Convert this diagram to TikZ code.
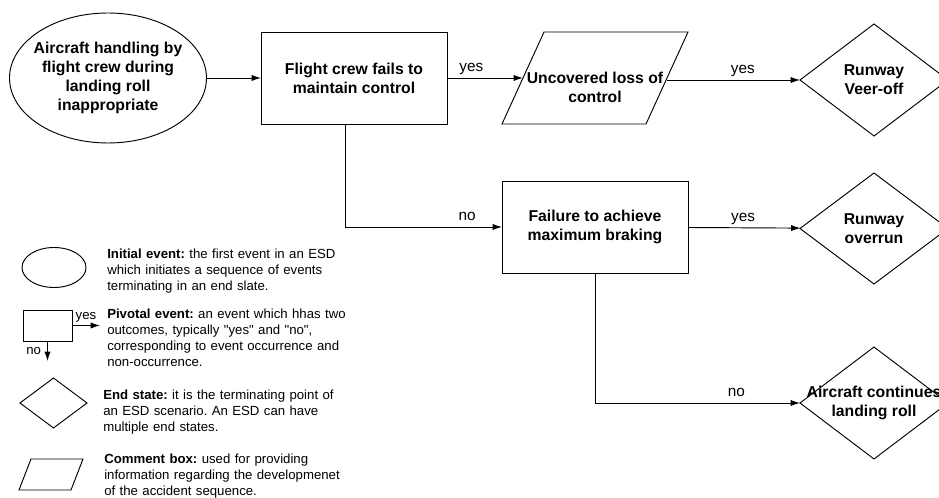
\documentclass[tikz,border=0pt]{standalone}
\usepackage{fontspec}
\setmainfont{Liberation Sans}
\usetikzlibrary{shapes.geometric,arrows.meta,calc}
\frenchspacing

\begin{document}
\begin{tikzpicture}[x=0.75pt,y=-0.75pt,
  outline/.style={draw=black,line width=0.7pt,inner sep=0pt,outer sep=0pt},
  initev/.style={outline,ellipse},
  pivot/.style={outline,rectangle},
  endst/.style={outline,diamond},
  frame/.style={rectangle,inner sep=0pt,outer sep=0pt},
  slanted/.style={draw=black,line width=0.7pt,line join=miter},
  maintext/.style={font=\fontsize{11.8pt}{14.25pt}\selectfont\bfseries,align=center,inner sep=0pt},
  flow/.style={draw=black,line width=0.7pt,-{Latex[length=7pt,width=4.6pt]}},
  lbl/.style={font=\fontsize{11.5pt}{13.8pt}\selectfont,anchor=base,inner sep=0pt,yshift=4.5pt},
  smalllbl/.style={font=\fontsize{9.9pt}{12pt}\selectfont,inner sep=0pt},
  legendtext/.style={font=\fontsize{9.9pt}{12pt}\selectfont,align=left,inner sep=0pt,
    text width=260*0.75pt,anchor=base west}
]
\useasboundingbox (0,0) rectangle (939,498);

% ---- event sequence ----
\node[initev,minimum width=197*0.75pt,minimum height=130*0.75pt] (ie) at (108,78) {};
\node[maintext] at (ie) {Aircraft handling by\\flight crew during\\landing roll\\inappropriate};

\node[pivot,minimum width=186*0.75pt,minimum height=92*0.75pt] (p1) at (354,78) {};
\node[maintext] at (p1) {Flight crew fails to\\maintain control};

% comment box: a parallelogram whose top edge is shifted 42 units right
\node[frame,minimum width=186*0.75pt,minimum height=92*0.75pt] (c1) at (595,78) {};
\draw[slanted] (c1.south west) -- ($(c1.north west)+(42,0)$) -- (c1.north east)
  -- ($(c1.south east)-(42,0)$) -- cycle;
\coordinate (c1in) at ($(c1.west)+(21,0)$);
\coordinate (c1out) at ($(c1.east)-(21,-2)$);
\node[maintext,yshift=-7pt] at (c1) {Uncovered loss of\\control};

\node[endst,minimum width=148*0.75pt,minimum height=112*0.75pt] (e1) at (874,80) {};
\node[maintext] at (e1) {Runway\\Veer-off};

\node[pivot,minimum width=186*0.75pt,minimum height=92*0.75pt] (p2) at (595,227) {};
\node[maintext] at (p2) {Failure to achieve\\maximum braking};

\node[endst,minimum width=148*0.75pt,minimum height=111*0.75pt] (e2) at (874,228.5) {};
\node[maintext] at (e2) {Runway\\overrun};

\node[endst,minimum width=148*0.75pt,minimum height=112*0.75pt] (e3) at (874,403) {};
\node[maintext] at (e3) {Aircraft continues\\landing roll};

\draw[flow] (ie) -- (p1);
\draw[flow] (p1) -- (c1in) node[lbl,pos=0.32] {yes};
\draw[flow] (c1out) -- (e1.west) node[lbl,pos=0.57] {yes};
\draw[flow] ([xshift=-9*0.75pt]p1.south) |- (p2) node[lbl,pos=0.889] {no};
\draw[flow] (p2) -- (e2) node[lbl,pos=0.49] {yes};
\draw[flow] (p2.south) |- (e3) node[lbl,pos=0.845] {no};

% ---- legend ----
\node[initev,minimum width=64*0.75pt,minimum height=40*0.75pt] (lie) at (54,267.5) {};
\node[legendtext] (lietxt) at (107,258.5) {\textbf{Initial event:} the first event in an ESD\\which initiates a sequence of events\\terminating in an end slate.};

\node[pivot,minimum width=49*0.75pt,minimum height=31*0.75pt] (lpe) at (47.5,325.5) {};
\coordinate (lyes) at (100,325.5);
\coordinate (lno) at (47.5,361);
\draw[flow] (lpe) -- (lyes) node[smalllbl,anchor=base,midway,yshift=4.5pt] {yes};
\draw[flow] (lpe) -- (lno) node[smalllbl,anchor=base east,pos=0.675,xshift=-4.5pt] {no};
\node[legendtext] (lpetxt) at (107,319) {\textbf{Pivotal event:} an event which hhas two\\outcomes, typically \textquotedbl yes\textquotedbl\ and \textquotedbl no\textquotedbl,\\corresponding to event occurrence and\\non-occurrence.};

\node[endst,minimum width=67*0.75pt,minimum height=50*0.75pt] (les) at (53.5,403) {};
\node[legendtext] (lestxt) at (103,399.5) {\textbf{End state:} it is the terminating point of\\an ESD scenario. An ESD can have\\multiple end states.};

\node[frame,minimum width=64*0.75pt,minimum height=31*0.75pt] (lcb) at (51,474.5) {};
\draw[slanted] (lcb.south west) -- ($(lcb.north west)+(12,0)$) -- (lcb.north east)
  -- ($(lcb.south east)-(12,0)$) -- cycle;
\node[legendtext] (lcbtxt) at (104,463.5) {\textbf{Comment box:} used for providing\\information regarding the developmenet\\of the accident sequence.};
\end{tikzpicture}
\end{document}
